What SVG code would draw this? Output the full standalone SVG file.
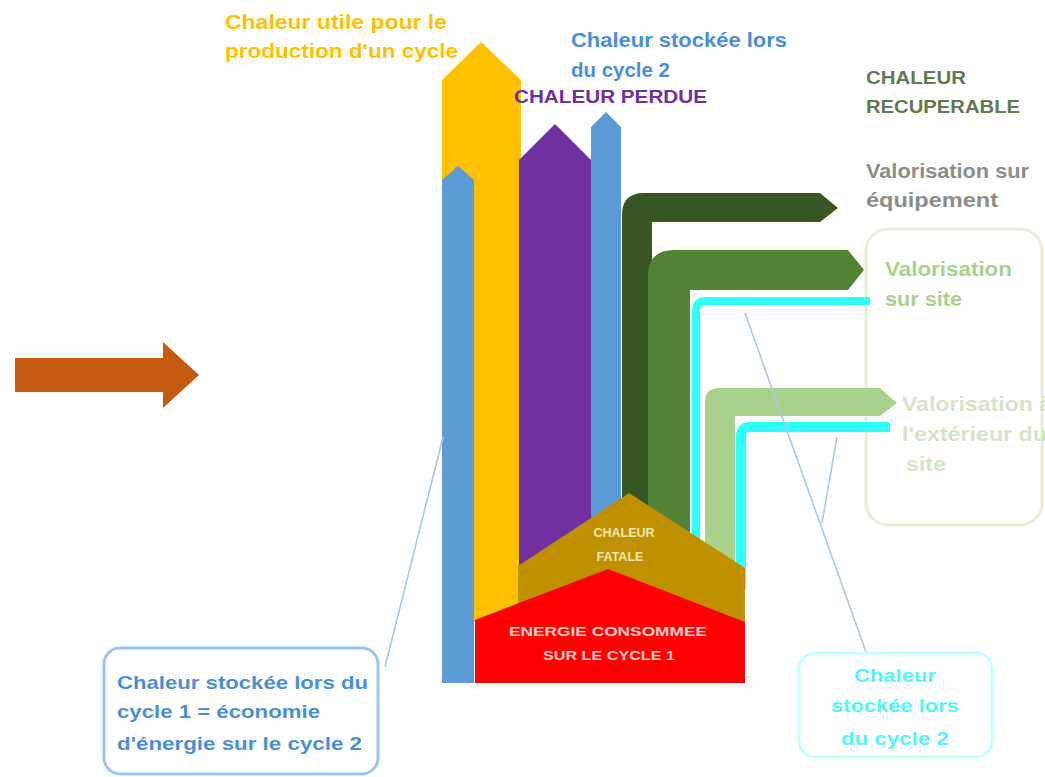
<svg xmlns="http://www.w3.org/2000/svg" width="1045" height="777" viewBox="0 0 1045 777">
<style>
text{font-family:"Liberation Sans",Arial,sans-serif;font-weight:bold;}
.t20{font-size:20px;}
.t19{font-size:19px;}
.yel{fill:#FFC000;}
.blu{fill:#4A8FD4;}
.pur{fill:#7030A0;}
.rec{fill:#5F7A4F;}
.gry{fill:#8A8F86;}
.lg{fill:#A9D18E;}
.plg{fill:#D3E5C5;}
.cy{fill:#55F5F5;}
.fat{fill:#F5E8B0;font-size:12.5px;}
.ene{fill:#FFCCCC;font-size:13px;}
.conn{stroke:#A9C8E8;stroke-width:1.6;fill:none;}
.box{fill:#FFFFFF;stroke-width:3;}
</style>
<rect width="1045" height="777" fill="#FFFFFF"/>

<g id="box-valorisation">
<rect x="866" y="229" width="176" height="296" rx="22" fill="none" stroke="#E2EFD9" stroke-width="3"/>
<text class="t20 lg" x="885" y="276" textLength="127" lengthAdjust="spacingAndGlyphs">Valorisation</text>
<text class="t20 lg" x="885" y="306" textLength="77" lengthAdjust="spacingAndGlyphs">sur site</text>
<text class="t20 plg" x="902" y="411" textLength="150" lengthAdjust="spacingAndGlyphs">Valorisation à</text>
<text class="t20 plg" x="902" y="441" textLength="145" lengthAdjust="spacingAndGlyphs">l'extérieur du</text>
<text class="t20 plg" x="906" y="471" textLength="40" lengthAdjust="spacingAndGlyphs">site</text>
</g>

<g id="arrow-input">
<polygon points="15,358 163,358 163,342 199,375 163,408 163,392 15,392" fill="#C55A11"/>
</g>

<g id="flow-chaleur-utile">
<polygon points="442,622 442,80 481,42 521,80 521,622" fill="#FFC000"/>
</g>
<g id="flow-stockee-cycle1">
<polygon points="442,683 442,180 458,166 474,180 474,683" fill="#5B9BD5"/>
</g>
<g id="flow-chaleur-perdue">
<polygon points="519,600 519,160 555,124 591,160 591,600" fill="#7030A0"/>
</g>
<g id="flow-stockee-cycle2">
<polygon points="591,520 591,127 606,112 621,127 621,520" fill="#5B9BD5"/>
</g>
<g id="flow-valorisation-equipement">
<path d="M622,560 L622,215 Q622,193 644,193 L820,193 L838,208 L820,222 L652,222 L652,560 Z" fill="#375623"/>
</g>
<g id="flow-valorisation-site">
<path d="M648,580 L648,276 Q648,250 674,250 L848,250 L864,270 L848,290 L690,290 L690,580 Z" fill="#548235"/>
</g>
<g id="cyan-1">
<path d="M696,560 L696,311 Q696,301 706,301 L870,301" fill="none" stroke="#2EFFF8" stroke-width="8"/>
</g>
<g id="flow-valorisation-exterieur">
<path d="M705,590 L705,402 Q705,388 719,388 L880,388 L897,403 L880,416 L735,416 L735,590 Z" fill="#A9D18E"/>
</g>
<g id="cyan-2">
<path d="M741,590 L741,436 Q741,427 750,427 L890,427" fill="none" stroke="#2EFFF8" stroke-width="10"/>
</g>

<g id="chaleur-fatale">
<polygon points="629,493 745,568 745,625 518,625 518,566" fill="#BF9000"/>
<text class="fat" x="624" y="537" text-anchor="middle">CHALEUR</text>
<text class="fat" x="620" y="561" text-anchor="middle">FATALE</text>
</g>
<g id="energie-consommee">
<polygon points="475,620 608,569 745,622 745,683 475,683" fill="#FF0000"/>
<text class="ene" x="608" y="636" text-anchor="middle" textLength="198" lengthAdjust="spacingAndGlyphs">ENERGIE CONSOMMEE</text>
<text class="ene" x="609" y="660" text-anchor="middle" textLength="132" lengthAdjust="spacingAndGlyphs">SUR LE CYCLE 1</text>
</g>

<g id="connectors">
<line class="conn" x1="385" y1="667" x2="443" y2="437"/>
<line class="conn" x1="745" y1="313" x2="866" y2="652"/>
<line class="conn" x1="837" y1="437" x2="822" y2="523"/>
</g>

<g id="label-chaleur-utile">
<text class="t20 yel" x="225" y="29" textLength="222" lengthAdjust="spacingAndGlyphs">Chaleur utile pour le</text>
<text class="t20 yel" x="225" y="58" textLength="233" lengthAdjust="spacingAndGlyphs">production d'un cycle</text>
</g>
<g id="label-stockee-cycle2">
<text class="t20 blu" x="571" y="47" textLength="216" lengthAdjust="spacingAndGlyphs">Chaleur stockée lors</text>
<text class="t20 blu" x="571" y="77" textLength="99" lengthAdjust="spacingAndGlyphs">du cycle 2</text>
</g>
<g id="label-chaleur-perdue">
<text class="t19 pur" x="514" y="103" textLength="193" lengthAdjust="spacingAndGlyphs">CHALEUR PERDUE</text>
</g>
<g id="label-recuperable">
<text class="t19 rec" x="866" y="84" textLength="100" lengthAdjust="spacingAndGlyphs">CHALEUR</text>
<text class="t19 rec" x="866" y="113" textLength="154" lengthAdjust="spacingAndGlyphs">RECUPERABLE</text>
</g>
<g id="label-equipement">
<text class="t20 gry" x="866" y="178" textLength="163" lengthAdjust="spacingAndGlyphs">Valorisation sur</text>
<text class="t20 gry" x="866" y="207" textLength="132" lengthAdjust="spacingAndGlyphs">équipement</text>
</g>
<g id="box-stockee-cycle1">
<rect class="box" x="104" y="648" width="274" height="126" rx="16" stroke="#9DC3E6"/>
<text class="t19 blu" x="117" y="689" textLength="251" lengthAdjust="spacingAndGlyphs">Chaleur stockée lors du</text>
<text class="t19 blu" x="117" y="718" textLength="203" lengthAdjust="spacingAndGlyphs">cycle 1 = économie</text>
<text class="t19 blu" x="117" y="750" textLength="245" lengthAdjust="spacingAndGlyphs">d'énergie sur le cycle 2</text>
</g>
<g id="box-stockee-cycle2">
<rect class="box" x="799" y="653" width="193" height="104" rx="16" stroke="#C2FFFF"/>
<text class="t19 cy" x="895" y="682" text-anchor="middle" textLength="82" lengthAdjust="spacingAndGlyphs">Chaleur</text>
<text class="t19 cy" x="895" y="712" text-anchor="middle" textLength="128" lengthAdjust="spacingAndGlyphs">stockée lors</text>
<text class="t19 cy" x="895" y="745" text-anchor="middle" textLength="108" lengthAdjust="spacingAndGlyphs">du cycle 2</text>
</g>
</svg>
